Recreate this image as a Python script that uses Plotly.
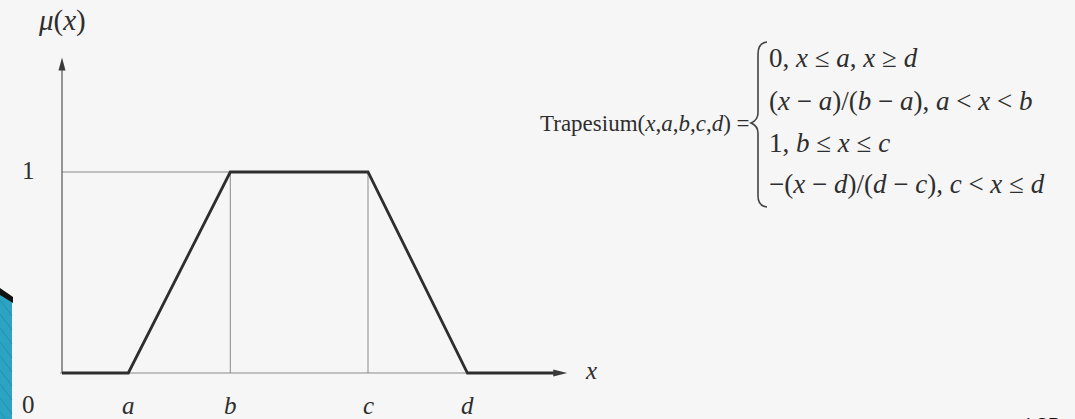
import plotly.graph_objects as go

W, H = 1075, 419

# Trapezoidal membership function: breakpoints on the x axis
a, b, c, d = 1.3, 3.3, 6.0, 7.95
x_end = 9.75                      # where the x axis arrow ends
x_pts = [0, a, b, c, d, x_end]
mu_pts = [0, 0, 1, 1, 0, 0]
y_top = 1.57                      # top of the mu axis arrow

tick_pos = [a, b, c, d]
tick_text = ["a", "b", "c", "d"]

formula_lhs = "Trapesium(<i>x</i>,<i>a</i>,<i>b</i>,<i>c</i>,<i>d</i>) ="
formula_cases = [
    "0, <i>x</i> ≤ <i>a</i>, <i>x</i> ≥ <i>d</i>",
    "(<i>x</i> − <i>a</i>)/(<i>b</i> − <i>a</i>), <i>a</i> &lt; <i>x</i> &lt; <i>b</i>",
    "1, <i>b</i> ≤ <i>x</i> ≤ <i>c</i>",
    "−(<i>x</i> − <i>d</i>)/(<i>d</i> − <i>c</i>), <i>c</i> &lt; <i>x</i> ≤ <i>d</i>",
]

# axis scaling: origin at pixel (62, 373), 51 px per x unit, 201 px per mu unit
X0, Y0, SX, SY = 62, 373, 51.0, 201.0
x_range = [-X0 / SX, (W - X0) / SX]
y_range = [(Y0 - H) / SY, Y0 / SY]


def fx(p):  # pixel column -> data x
    return (p - X0) / SX


def fy(p):  # pixel row -> data y
    return (Y0 - p) / SY


def px(p):  # pixel column -> paper
    return p / W


def py(p):  # pixel row -> paper
    return 1 - p / H


INK = "#2e2e2e"
THIN = "#8a8a8a"
SERIF = "Liberation Serif, Times New Roman, serif"

fig = go.Figure()

# thin guide lines at mu = 1 and at b, c
fig.add_trace(go.Scatter(x=[0, b], y=[1, 1], mode="lines",
                         line=dict(color=THIN, width=1), hoverinfo="skip"))
for xv in (b, c):
    fig.add_trace(go.Scatter(x=[xv, xv], y=[0, 1], mode="lines",
                             line=dict(color=THIN, width=1), hoverinfo="skip"))

# axes
fig.add_trace(go.Scatter(x=[0, 0], y=[0, y_top - 0.05], mode="lines",
                         line=dict(color="#555555", width=1.2), hoverinfo="skip"))
fig.add_trace(go.Scatter(x=[-0.04, x_end], y=[0, 0], mode="lines",
                         line=dict(color="#8a8a8a", width=1.2), hoverinfo="skip"))

# the membership function
fig.add_trace(go.Scatter(x=x_pts, y=mu_pts, mode="lines",
                         line=dict(color=INK, width=2.8), hoverinfo="skip"))

shapes = []
# arrowheads
shapes.append(dict(type="path", xref="x", yref="y",
                   path=f"M {0} {y_top} L {-3.5/SX} {y_top - 13/SY} L {3.5/SX} {y_top - 13/SY} Z",
                   fillcolor="#3a3a3a", line=dict(width=0)))
shapes.append(dict(type="path", xref="x", yref="y",
                   path=f"M {x_end + 8/SX} 0 L {x_end - 6/SX} {3.5/SY} L {x_end - 6/SX} {-3.5/SY} Z",
                   fillcolor="#3a3a3a", line=dict(width=0)))

# curly brace of the piecewise definition
bx = 758
brace = (f"M {px(767)},{py(42)} Q {px(758)},{py(43)} {px(bx)},{py(54)} "
         f"L {px(bx)},{py(113)} Q {px(bx)},{py(120)} {px(751)},{py(123)} "
         f"Q {px(bx)},{py(126)} {px(bx)},{py(133)} "
         f"L {px(bx)},{py(196)} Q {px(bx)},{py(206)} {px(767)},{py(207)}")
shapes.append(dict(type="path", xref="paper", yref="paper", path=brace,
                   line=dict(color="#444444", width=1.6)))

# slide decoration in the lower-left corner
shapes.append(dict(type="path", xref="paper", yref="paper",
                   path=f"M 0,{py(294)} L {px(12)},{py(301)} L {px(12)},0 L 0,0 Z",
                   fillcolor="#2ca3c2", line=dict(width=0)))
for k in range(9):
    y0 = 300 + k * 14
    shapes.append(dict(type="line", xref="paper", yref="paper",
                       x0=0, y0=py(y0), x1=px(12), y1=py(y0 + 16),
                       line=dict(color="#2290ae", width=1)))
shapes.append(dict(type="path", xref="paper", yref="paper",
                   path=f"M 0,{py(288)} L {px(13)},{py(297)} L {px(13)},{py(303)} L 0,{py(295)} Z",
                   fillcolor="#111111", line=dict(width=0)))

annotations = []


def label(x, y, text, size=25, anchor="center", yanchor="middle", font=SERIF, color=INK):
    annotations.append(dict(x=x, y=y, xref="x", yref="y", text=text, showarrow=False,
                            xanchor=anchor, yanchor=yanchor,
                            font=dict(family=font, size=size, color=color)))


for xv, t in zip(tick_pos, tick_text):
    label(xv, fy(405), f"<i>{t}</i>")
label(fx(28), fy(404), "0")
label(fx(28), fy(170), "1")
label(fx(591), fy(370), "<i>x</i>")
label(fx(36), fy(20), "<i>μ</i>(<i>x</i>)", size=29, anchor="left")

label(fx(752), fy(123), formula_lhs, anchor="right", size=23)
for row, t in zip([58, 101, 143, 184], formula_cases):
    label(fx(767), fy(row), t, anchor="left", size=27)

# footer text, mostly below the visible page
annotations.append(dict(x=px(1024), y=py(413), xref="paper", yref="paper", text="LSP",
                        showarrow=False, xanchor="left", yanchor="top",
                        font=dict(family="Liberation Sans, Arial", size=18, color="#111111")))

fig.update_layout(
    width=W, height=H, margin=dict(l=0, r=0, t=0, b=0),
    paper_bgcolor="#f6f6f6", plot_bgcolor="#f6f6f6",
    showlegend=False, shapes=shapes, annotations=annotations,
    xaxis=dict(range=x_range, visible=False, fixedrange=True),
    yaxis=dict(range=y_range, visible=False, fixedrange=True),
)

fig.write_html("out.html", config={"displayModeBar": False})
